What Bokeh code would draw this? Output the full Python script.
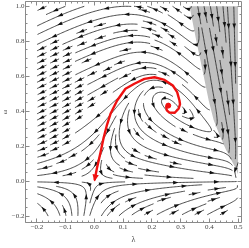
import math
import numpy as np
from bokeh.plotting import figure
from bokeh.models import Range1d, LinearAxis, FixedTicker, CustomJSTickFormatter
from bokeh.embed import file_html
from bokeh.resources import INLINE

# ---------------- values ----------------
X_TICKS = [-0.2, -0.1, 0.0, 0.1, 0.2, 0.3, 0.4, 0.5]
Y_TICKS = [-0.2, 0.0, 0.2, 0.4, 0.6, 0.8, 1.0]
X_MINOR = [round(-0.24 + 0.02 * k, 2) for k in range(40)]
Y_MINOR = [round(-0.25 + 0.05 * k, 2) for k in range(27)]
X_LABEL = "λ"
Y_LABEL = "ω"

# red trajectory (from the unstable focus to the saddle at the origin)
red_lam = [0.257, 0.250, 0.252, 0.261, 0.279, 0.293, 0.298, 0.296, 0.288, 0.273,
           0.244, 0.209, 0.174, 0.139, 0.108, 0.079, 0.056, 0.044, 0.032, 0.021,
           0.009, 0.001]
red_om = [0.432, 0.425, 0.405, 0.392, 0.391, 0.414, 0.440, 0.461, 0.509, 0.547,
          0.579, 0.594, 0.585, 0.557, 0.528, 0.461, 0.385, 0.324, 0.248, 0.162,
          0.077, 0.010]

# boundary of the shaded (grey) region
shade_lam = [0.331, 0.355, 0.378, 0.398, 0.415, 0.439, 0.458, 0.474, 0.488, 0.497, 0.500]
shade_om = [1.000, 0.800, 0.620, 0.460, 0.350, 0.250, 0.180, 0.128, 0.085, 0.051, 0.040]

# stream-plot domain
LAM_MIN, LAM_MAX = -0.2, 0.5
OM_MIN, OM_MAX = -0.2, 1.0

# critical points
focus = (0.257, 0.432)
saddle = (0.0, 0.0)
sink = (0.5, 0.0)

# nullclines that shape the vector field
ncp_lam = [-0.6, 0.0, 0.05, 0.10, 0.15, 0.18, 0.22, 0.26, 0.31, 0.36, 0.41, 0.45, 0.47, 0.49, 0.50, 0.52, 0.9]
ncp_om = [-1.8, 0.0, 0.17, 0.31, 0.42, 0.46, 0.465, 0.44, 0.40, 0.355, 0.29, 0.22, 0.17, 0.09, 0.0, -0.3, -6.0]
ncq_om = [-0.6, 0.0, 0.12, 0.17, 0.20, 0.25, 0.30, 0.35, 0.40, 0.44, 0.50, 0.60, 0.70, 0.85, 1.00, 1.5]
ncq_lam = [1.4, 0.8, 0.50, 0.47, 0.45, 0.42, 0.385, 0.34, 0.30, 0.26, 0.235, 0.20, 0.17, 0.14, 0.11, 0.03]
BETA, GAMMA = 1.0, 4.0

# ---------------- vector field ----------------
SX, SY = 287.0, 175.0          # px per unit
W = (LAM_MAX - LAM_MIN) * SX
H = (OM_MAX - OM_MIN) * SY


def smooth_fn(xc, yc, lo, hi, sigma):
    g = np.linspace(lo, hi, 3001)
    v = np.interp(g, xc, yc)
    d = g[1] - g[0]
    n = int(4 * sigma / d)
    k = np.arange(-n, n + 1) * d
    ker = np.exp(-0.5 * (k / sigma) ** 2)
    ker /= ker.sum()
    vp = np.concatenate([np.full(n, v[0]), v, np.full(n, v[-1])])
    vs = np.convolve(vp, ker, mode="valid")
    return g, vs


gPx, gPv = smooth_fn(ncp_lam, ncp_om, -0.6, 0.9, 0.015)
gQy, gQv = smooth_fn(ncq_om, ncq_lam, -0.6, 1.5, 0.02)

STEP = 0.5
gx = np.arange(0, W + STEP, STEP)
gy = np.arange(0, H + STEP, STEP)
GX, GY = np.meshgrid(gx, gy)
LAM = LAM_MIN + GX / SX
OM = OM_MIN + GY / SY

P = BETA * (np.interp(LAM, gPx, gPv) - OM)
Q = GAMMA * OM * (LAM - np.interp(OM, gQy, gQv))
u1, v1 = P * SX, Q * SY
m1 = np.hypot(u1, v1) + 1e-12
u1, v1 = u1 / m1, v1 / m1

u2, v2 = (sink[0] - LAM) * SX, (sink[1] - OM) * SY
m2 = np.hypot(u2, v2) + 1e-12
u2, v2 = u2 / m2, v2 / m2

sy_sorted = shade_om[::-1]
sx_sorted = shade_lam[::-1]
xb = np.interp(OM, sy_sorted, sx_sorted)
wgt = 1.0 / (1.0 + np.exp(-(LAM - xb) / 0.012)) / (1.0 + np.exp(-(OM - 0.045) / 0.01))

U = (1 - wgt) * u1 + wgt * u2
V = (1 - wgt) * v1 + wgt * v2
mag = np.hypot(U, V)
OKm = mag > 0.25
for (fx, fy) in (focus, saddle, sink):
    OKm &= np.hypot((LAM - fx) * SX, (OM - fy) * SY) > 1.5
U = (U / (mag + 1e-12)).tolist()
V = (V / (mag + 1e-12)).tolist()
OKL = OKm.tolist()
NGX, NGY = len(gx), len(gy)


def vel(X, Y):
    if X < 0 or X > W or Y < 0 or Y > H:
        return None
    fx, fy = X / STEP, Y / STEP
    i, j = int(fx), int(fy)
    if i >= NGX - 1:
        i = NGX - 2
    if j >= NGY - 1:
        j = NGY - 2
    if not OKL[min(int(fy + 0.5), NGY - 1)][min(int(fx + 0.5), NGX - 1)]:
        return None
    tx, ty = fx - i, fy - j
    a, b, c, d = (1 - tx) * (1 - ty), tx * (1 - ty), (1 - tx) * ty, tx * ty
    Uj, Uj1, Vj, Vj1 = U[j], U[j + 1], V[j], V[j + 1]
    u = Uj[i] * a + Uj[i + 1] * b + Uj1[i] * c + Uj1[i + 1] * d
    v = Vj[i] * a + Vj[i + 1] * b + Vj1[i] * c + Vj1[i + 1] * d
    m = math.hypot(u, v)
    if m < 1e-6:
        return None
    return u / m, v / m


CELL = 6.3
NCX, NCY = int(W / CELL) + 1, int(H / CELL) + 1
mask = [[0] * NCX for _ in range(NCY)]


def cell(X, Y):
    return min(int(X / CELL), NCX - 1), min(int(Y / CELL), NCY - 1)


def integrate(X, Y, sgn, own):
    pts = []
    ci, cj = cell(X, Y)
    h = 0.7 * sgn
    for _ in range(2500):
        r1 = vel(X, Y)
        if r1 is None:
            break
        r2 = vel(X + 0.5 * h * r1[0], Y + 0.5 * h * r1[1])
        if r2 is None:
            break
        Xn, Yn = X + h * r2[0], Y + h * r2[1]
        if Xn < 0 or Xn > W or Yn < 0 or Yn > H:
            break
        ni, nj = cell(Xn, Yn)
        if (ni, nj) != (ci, cj):
            if mask[nj][ni]:
                break
            mask[nj][ni] = 1
            own.append((ni, nj))
            ci, cj = ni, nj
        X, Y = Xn, Yn
        pts.append((X, Y))
    return pts


def spiral_cells(nx, ny):
    order = []
    xlo, xhi, ylo, yhi = 0, nx - 1, 0, ny - 1
    while xlo <= xhi and ylo <= yhi:
        for i in range(xlo, xhi + 1):
            order.append((i, ylo))
        for j in range(ylo + 1, yhi + 1):
            order.append((xhi, j))
        if ylo < yhi:
            for i in range(xhi - 1, xlo - 1, -1):
                order.append((i, yhi))
        if xlo < xhi:
            for j in range(yhi - 1, ylo, -1):
                order.append((xlo, j))
        xlo += 1
        xhi -= 1
        ylo += 1
        yhi -= 1
    return order


lines = []
for (ci, cj) in spiral_cells(NCX, NCY):
    if mask[cj][ci]:
        continue
    X0 = min((ci + 0.5) * CELL, W - 0.1)
    Y0 = min((cj + 0.5) * CELL, H - 0.1)
    if vel(X0, Y0) is None:
        continue
    own = [(ci, cj)]
    mask[cj][ci] = 1
    back = integrate(X0, Y0, -1, own)
    fwd = integrate(X0, Y0, 1, own)
    pts = back[::-1] + [(X0, Y0)] + fwd
    arr = np.array(pts)
    if len(arr) < 3:
        for (a, b) in own:
            mask[b][a] = 0
        continue
    seg = np.hypot(np.diff(arr[:, 0]), np.diff(arr[:, 1]))
    L = seg.sum()
    if L < 9:
        for (a, b) in own:
            mask[b][a] = 0
        continue
    lines.append((arr, np.concatenate([[0], np.cumsum(seg)])))

xs, ys, hx, hy = [], [], [], []
for arr, s in lines:
    sub = arr[::2] if len(arr) > 4 else arr
    if len(arr) > 4 and not np.allclose(sub[-1], arr[-1]):
        sub = np.vstack([sub, arr[-1]])
    xs.append((LAM_MIN + sub[:, 0] / SX).tolist())
    ys.append((OM_MIN + sub[:, 1] / SY).tolist())
    L = s[-1]
    n = max(1, int(L / 42 + 0.5))
    for k in range(n):
        sk = (k + 0.5) * L / n
        idx = min(max(int(np.searchsorted(s, sk)), 1), len(arr) - 1)
        p0, p1 = arr[idx - 1], arr[idx]
        d = p1 - p0
        dn = np.hypot(*d)
        if dn == 0:
            continue
        d = d / dn
        nrm = np.array([-d[1], d[0]])
        c = p0 + d * (sk - s[idx - 1])
        tip = c + d * 3.0
        b1 = c - d * 2.3 + nrm * 1.8
        b2 = c - d * 2.3 - nrm * 1.8
        tri = np.array([tip, b1, b2])
        hx.append((LAM_MIN + tri[:, 0] / SX).tolist())
        hy.append((OM_MIN + tri[:, 1] / SY).tolist())

# red arrow head at the end of the trajectory
dx, dy = (red_lam[-1] - red_lam[-2]) * SX, (red_om[-1] - red_om[-2]) * SY
dn = math.hypot(dx, dy)
dx, dy = dx / dn, dy / dn
tipx, tipy = red_lam[-1] * SX + dx * 2.0, red_om[-1] * SY + dy * 2.0
rhx = [tipx / SX, (tipx - dx * 7 - dy * 3.2) / SX, (tipx - dx * 7 + dy * 3.2) / SX]
rhy = [tipy / SY, (tipy - dy * 7 + dx * 3.2) / SY, (tipy - dy * 7 - dx * 3.2) / SY]

# ---------------- figure ----------------
FRAME = "#8a8a8a"
LABEL = "#444444"
FONT = "Liberation Serif"

p = figure(width=252, height=248,
           x_range=Range1d(-0.240, 0.512), y_range=Range1d(-0.236, 1.027),
           output_backend="svg", toolbar_location=None,
           min_border_left=25, min_border_right=8, min_border_top=1, min_border_bottom=26)
p.styles = {"position": "fixed", "left": "-3px", "top": "0px"}
p.xgrid.visible = False
p.ygrid.visible = False
p.outline_line_color = None
p.background_fill_color = "white"
p.border_fill_color = "white"

fmt = CustomJSTickFormatter(code='return (tick < -1e-9 ? "\\u2212" : "") + Math.abs(tick).toFixed(1);')
blank = CustomJSTickFormatter(code='return "";')


def style_axis(ax, ticks, minor, show):
    ax.ticker = FixedTicker(ticks=ticks, minor_ticks=minor)
    ax.formatter = fmt if show else blank
    ax.axis_line_color = FRAME
    ax.major_tick_line_color = FRAME
    ax.minor_tick_line_color = FRAME
    ax.major_tick_in = 4
    ax.major_tick_out = 0
    ax.minor_tick_in = 2
    ax.minor_tick_out = 0
    ax.major_label_text_font = FONT
    ax.major_label_text_color = LABEL
    ax.major_label_text_font_size = "7px"
    ax.major_label_standoff = 1 if show else 0


xb_ax = p.below[0]
yl_ax = p.left[0]
style_axis(xb_ax, X_TICKS, X_MINOR, True)
style_axis(yl_ax, Y_TICKS, Y_MINOR, True)
xb_ax.major_label_standoff = 2
xb_ax.axis_label = X_LABEL
yl_ax.axis_label = Y_LABEL
for ax in (xb_ax, yl_ax):
    ax.axis_label_text_font = FONT
    ax.axis_label_text_font_style = "normal"
    ax.axis_label_text_color = LABEL
xb_ax.axis_label_text_font_size = "8px"
yl_ax.axis_label_text_font_size = "7px"
xb_ax.axis_label_standoff = 3
yl_ax.axis_label_standoff = 0

top_ax = LinearAxis()
right_ax = LinearAxis()
style_axis(top_ax, X_TICKS, X_MINOR, False)
style_axis(right_ax, Y_TICKS, Y_MINOR, False)
p.add_layout(top_ax, "above")
p.add_layout(right_ax, "right")

# shaded region
p.patch(x=shade_lam + [LAM_MAX], y=shade_om + [OM_MAX], fill_color="#c0c0c0", line_color=None)

# stream lines + arrow heads
p.multi_line(xs=xs, ys=ys, line_color="#1e1e1e", line_width=0.8)
p.patches(xs=hx, ys=hy, fill_color="#111111", line_color=None)

# red trajectory
p.line(x=red_lam, y=red_om, line_color="#ee1111", line_width=2.4, line_join="round", line_cap="round")
p.patch(x=rhx, y=rhy, fill_color="#ee1111", line_color=None)
p.scatter(x=[red_lam[0]], y=[red_om[0]], size=5, color="#ee1111")

open("out.html", "w").write(file_html(p, INLINE))
